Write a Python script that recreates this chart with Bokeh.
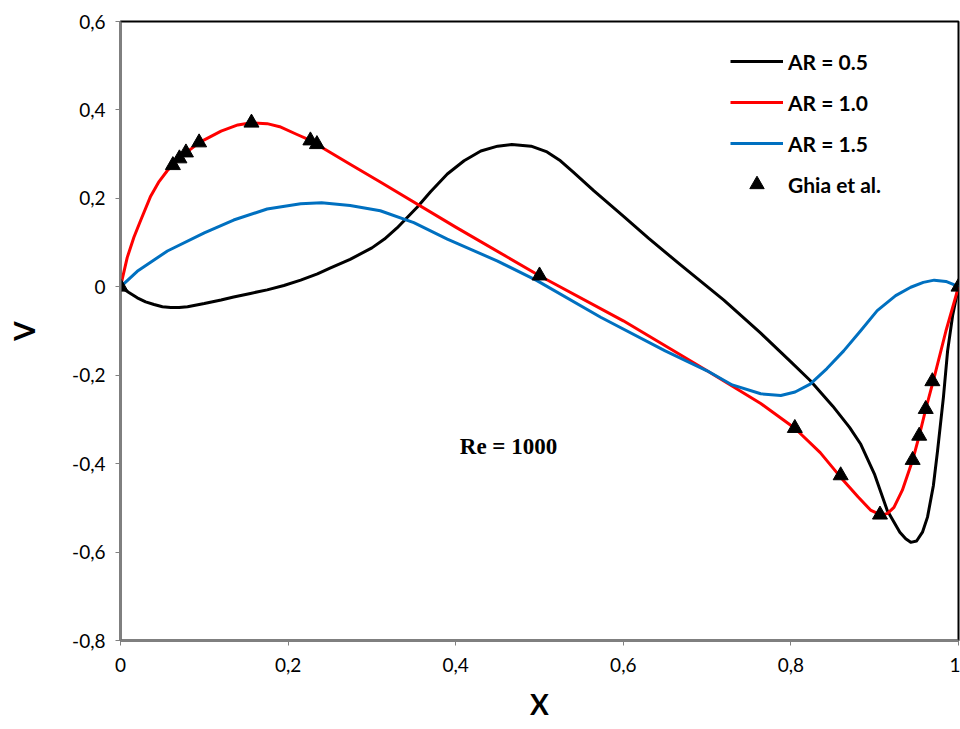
from bokeh.plotting import figure
from bokeh.models import FixedTicker, Legend, LegendItem, Label
from bokeh.embed import file_html
from bokeh.resources import INLINE

# Ghia et al. (Re = 1000), v along horizontal centerline
ghia_x = [1.0, 0.9688, 0.9609, 0.9531, 0.9453, 0.9063, 0.8594, 0.8047, 0.5, 0.2344,
          0.2266, 0.1563, 0.0938, 0.0781, 0.0703, 0.0625, 0.0]
ghia_v = [0.0, -0.21388, -0.27669, -0.33714, -0.39188, -0.5155, -0.42665, -0.31966,
          0.02526, 0.32235, 0.33075, 0.37095, 0.32627, 0.30353, 0.29012, 0.27485, 0.0]

ar05_x = [0, 0.01, 0.02, 0.03, 0.04, 0.05, 0.06, 0.07, 0.08, 0.1, 0.12, 0.135, 0.155,
          0.175, 0.195, 0.215, 0.235, 0.25, 0.274, 0.3, 0.315, 0.33, 0.354, 0.37, 0.39,
          0.41, 0.43, 0.45, 0.467, 0.49, 0.509, 0.525, 0.54, 0.565, 0.6, 0.63, 0.668,
          0.72, 0.764, 0.8, 0.823, 0.85, 0.87, 0.883, 0.9, 0.915, 0.93, 0.937, 0.943,
          0.95, 0.957, 0.963, 0.97, 0.975, 0.982, 0.987, 0.993, 1.0]
ar05_v = [0, -0.013, -0.025, -0.034, -0.04, -0.045, -0.047, -0.047, -0.045, -0.038,
          -0.03, -0.023, -0.015, -0.007, 0.003, 0.015, 0.029, 0.042, 0.062, 0.088, 0.108,
          0.133, 0.18, 0.215, 0.255, 0.285, 0.307, 0.318, 0.322, 0.318, 0.305, 0.285,
          0.26, 0.217, 0.16, 0.11, 0.05, -0.03, -0.105, -0.17, -0.212, -0.27, -0.318,
          -0.355, -0.425, -0.506, -0.555, -0.57, -0.578, -0.575, -0.555, -0.521, -0.45,
          -0.371, -0.25, -0.145, -0.065, 0]

ar10_x = [0, 0.008, 0.016, 0.024, 0.036, 0.046, 0.056, 0.0625, 0.0703, 0.0781, 0.0938,
          0.12, 0.14, 0.1563, 0.175, 0.19, 0.21, 0.2266, 0.2344, 0.274, 0.31, 0.4, 0.5,
          0.6, 0.7, 0.764, 0.8047, 0.835, 0.859, 0.88, 0.895, 0.907, 0.915, 0.923, 0.933,
          0.9453, 0.9531, 0.9609, 0.971, 0.985, 1.0]
ar10_v = [0, 0.066, 0.112, 0.15, 0.205, 0.238, 0.263, 0.275, 0.29, 0.303, 0.326, 0.352,
          0.366, 0.371, 0.369, 0.362, 0.345, 0.331, 0.322, 0.277, 0.237, 0.135, 0.025,
          -0.077, -0.19, -0.264, -0.32, -0.375, -0.43, -0.475, -0.505, -0.516, -0.513,
          -0.499, -0.46, -0.392, -0.337, -0.277, -0.205, -0.1, 0]

ar15_x = [0, 0.02, 0.056, 0.1, 0.135, 0.175, 0.215, 0.24, 0.274, 0.31, 0.35, 0.39, 0.45,
          0.497, 0.573, 0.65, 0.7, 0.73, 0.764, 0.788, 0.805, 0.823, 0.843, 0.863, 0.883,
          0.903, 0.925, 0.943, 0.958, 0.971, 0.985, 0.993, 1.0]
ar15_v = [0, 0.035, 0.081, 0.122, 0.151, 0.176, 0.188, 0.19, 0.184, 0.172, 0.145, 0.108,
          0.058, 0.014, -0.069, -0.145, -0.19, -0.222, -0.242, -0.246, -0.238, -0.22,
          -0.185, -0.145, -0.1, -0.054, -0.02, -0.001, 0.01, 0.015, 0.012, 0.006, 0]

x_ticks = [0, 0.2, 0.4, 0.6, 0.8, 1.0]
x_tick_labels = ["0", "0,2", "0,4", "0,6", "0,8", "1"]
y_ticks = [-0.8, -0.6, -0.4, -0.2, 0, 0.2, 0.4, 0.6]
y_tick_labels = ["-0,8", "-0,6", "-0,4", "-0,2", "0", "0,2", "0,4", "0,6"]

p = figure(width=960, height=729, output_backend="svg", toolbar_location=None,
           x_range=(0, 1), y_range=(-0.8, 0.6))
p.min_border_left = 120
p.min_border_right = 2
p.min_border_top = 21
p.min_border_bottom = 89
p.grid.visible = False
p.outline_line_color = "black"
p.outline_line_width = 2
p.background_fill_color = "white"
p.border_fill_color = "white"

FONT = "Lato"
for ax in (p.xaxis[0], p.yaxis[0]):
    ax.axis_line_color = "#808080"
    ax.axis_line_width = 2
    ax.major_tick_line_color = "#808080"
    ax.major_tick_line_width = 1
    ax.major_tick_in = 0
    ax.major_tick_out = 5
    ax.minor_tick_line_color = None
    ax.major_label_text_font = FONT
    ax.major_label_text_font_size = "19px"
    ax.major_label_text_color = "black"
    ax.axis_label_text_font = FONT
    ax.axis_label_text_font_style = "bold"
    ax.axis_label_text_font_size = "28px"
    ax.axis_label_text_color = "black"

p.xaxis.ticker = FixedTicker(ticks=x_ticks)
p.xaxis.major_label_overrides = dict(zip(x_ticks, x_tick_labels))
p.yaxis.ticker = FixedTicker(ticks=y_ticks)
p.yaxis.major_label_overrides = dict(zip(y_ticks, y_tick_labels))
p.xaxis.major_label_standoff = 12
p.yaxis.major_label_standoff = 10
p.xaxis.axis_label = "X"
p.yaxis.axis_label = "V"
p.xaxis.axis_label_standoff = 12
p.yaxis.axis_label_standoff = 28

r05 = p.line(ar05_x, ar05_v, line_color="black", line_width=3, line_join="round")
r10 = p.line(ar10_x, ar10_v, line_color="#FF0000", line_width=3, line_join="round")
r15 = p.line(ar15_x, ar15_v, line_color="#0070C0", line_width=3, line_join="round")
rg = p.scatter(ghia_x, ghia_v, marker="triangle", size=15, fill_color="black",
               line_color="black")

p.add_layout(Label(x=0.463, y=-0.362, text="Re = 1000", text_font="Liberation Serif",
                   text_font_style="bold", text_font_size="23px", text_align="center",
                   text_baseline="middle", text_color="black"))

legend = Legend(items=[
    LegendItem(label="AR = 0.5", renderers=[r05]),
    LegendItem(label="AR = 1.0", renderers=[r10]),
    LegendItem(label="AR = 1.5", renderers=[r15]),
    LegendItem(label="Ghia et al.", renderers=[rg]),
], location=(610, 438))
legend.border_line_color = None
legend.background_fill_alpha = 0
legend.padding = 0
legend.margin = 0
legend.glyph_width = 53
legend.glyph_height = 36
legend.label_height = 36
legend.spacing = 5
legend.label_standoff = 5
legend.label_text_font = FONT
legend.label_text_font_style = "bold"
legend.label_text_font_size = "21px"
legend.label_text_color = "black"
p.add_layout(legend)

open("out.html", "w").write(file_html(p, INLINE))
